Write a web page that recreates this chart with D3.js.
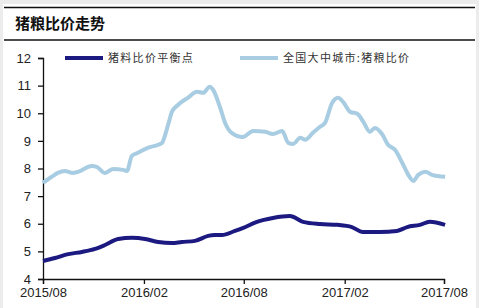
<!DOCTYPE html>
<html>
<head>
<meta charset="utf-8">
<script src="https://cdn.jsdelivr.net/npm/d3@7"></script>
<style>
  body { margin: 0; background: #fff; }
  svg { display: block; }
</style>
</head>
<body>
<div id="chart"></div>
<script>
// data
var titleText = "猪粮比价走势";
var seriesNames = ["猪料比价平衡点", "全国大中城市:猪粮比价"];
var yTicks = [4, 5, 6, 7, 8, 9, 10, 11, 12];
var xTickDates = ["2015-08-01", "2016-02-01", "2016-08-01", "2017-02-01", "2017-08-01"];

// 猪料比价平衡点
var balanceDates = ["2015-08-01", "2015-08-23", "2015-09-16", "2015-10-11", "2015-11-04", "2015-11-22",
  "2015-12-16", "2016-01-10", "2016-02-03", "2016-02-27", "2016-03-23", "2016-04-10", "2016-05-04",
  "2016-05-28", "2016-06-09", "2016-06-22", "2016-07-16", "2016-07-30", "2016-08-25", "2016-09-23",
  "2016-10-24", "2016-11-17", "2016-12-18", "2017-01-18", "2017-02-14", "2017-03-06", "2017-04-06",
  "2017-05-07", "2017-05-26", "2017-06-18", "2017-07-06", "2017-08-03"];
var balanceValues = [4.65, 4.76, 4.90, 4.98, 5.09, 5.23,
  5.45, 5.49, 5.45, 5.34, 5.30, 5.34, 5.38,
  5.56, 5.59, 5.59, 5.74, 5.84, 6.07, 6.21,
  6.28, 6.07, 5.99, 5.96, 5.88, 5.70, 5.70,
  5.74, 5.88, 5.96, 6.07, 5.96];

// 全国大中城市:猪粮比价
var ratioDates = ["2015-08-01", "2015-08-17", "2015-08-28", "2015-09-10", "2015-09-23", "2015-10-04",
  "2015-10-29", "2015-11-07", "2015-11-22", "2015-12-07", "2015-12-25", "2016-01-01", "2016-01-10",
  "2016-01-21", "2016-02-08", "2016-02-27", "2016-03-05", "2016-03-16", "2016-03-23", "2016-04-03",
  "2016-04-21", "2016-05-08", "2016-05-19", "2016-05-31", "2016-06-06", "2016-06-19", "2016-06-28",
  "2016-07-10", "2016-07-30", "2016-08-18", "2016-09-09", "2016-09-23", "2016-10-10", "2016-10-21",
  "2016-10-30", "2016-11-12", "2016-11-21", "2016-12-05", "2016-12-18", "2016-12-27", "2017-01-09",
  "2017-01-20", "2017-01-29", "2017-02-11", "2017-02-24", "2017-03-07", "2017-03-19", "2017-03-28",
  "2017-04-10", "2017-04-21", "2017-05-04", "2017-05-17", "2017-05-28", "2017-06-06", "2017-06-15",
  "2017-06-28", "2017-07-10", "2017-08-03"];
var ratioValues = [7.48, 7.70, 7.84, 7.91, 7.84, 7.88,
  8.09, 8.06, 7.84, 7.98, 7.95, 7.91, 8.46,
  8.57, 8.75, 8.86, 8.93, 9.58, 10.05, 10.30,
  10.56, 10.78, 10.74, 10.96, 10.85, 10.20, 9.65,
  9.29, 9.14, 9.36, 9.33, 9.25, 9.36, 8.93,
  8.89, 9.11, 9.04, 9.29, 9.51, 9.65, 10.37,
  10.56, 10.41, 10.05, 9.98, 9.69, 9.33, 9.47,
  9.25, 8.86, 8.67, 8.20, 7.77, 7.55, 7.77,
  7.88, 7.77, 7.70];

var svgWidth = 479;
var svgHeight = 308;
var margin = {top: 58, right: 35, bottom: 29, left: 43};
var width = svgWidth - margin.left - margin.right;
var height = svgHeight - margin.top - margin.bottom;

var darkColor = "#1c1a80";
var lightColor = "#a8cde2";
var parseDate = d3.timeParse("%Y-%m-%d");

var svg = d3.select("#chart")
  .append("svg")
  .attr("width", svgWidth)
  .attr("height", svgHeight);

// light grey frame and title bar
svg.append("rect")
  .attr("width", svgWidth).attr("height", svgHeight)
  .attr("fill", "#ececec");
svg.append("rect")
  .attr("x", 3).attr("y", 4)
  .attr("width", svgWidth - 6).attr("height", svgHeight - 4)
  .attr("fill", "#fff");

svg.append("line")
  .attr("x1", 4).attr("x2", 475).attr("y1", 7.5).attr("y2", 7.5)
  .attr("stroke", "#111").attr("stroke-width", 1.5);
svg.append("line")
  .attr("x1", 4).attr("x2", 475).attr("y1", 40).attr("y2", 40)
  .attr("stroke", "#111").attr("stroke-width", 1.5);
svg.append("text")
  .attr("x", 15).attr("y", 29)
  .style("font-family", "'Noto Sans CJK SC', sans-serif")
  .style("font-size", "15px")
  .style("font-weight", "bold")
  .style("fill", "#111")
  .text(titleText);

var chartGroup = svg.append("g")
  .attr("transform", `translate(${margin.left}, ${margin.top})`);

var xTimeScale = d3.scaleTime()
  .domain([parseDate(xTickDates[0]), parseDate(xTickDates[xTickDates.length - 1])])
  .range([0, 401]);

var yLinearScale = d3.scaleLinear()
  .domain([4, 12])
  .range([height, 0]);

var bottomAxis = d3.axisBottom(xTimeScale)
  .tickValues(xTickDates.map(parseDate))
  .tickFormat(d3.timeFormat("%Y/%m"))
  .tickSizeOuter(0)
  .tickSize(5)
  .tickPadding(4);
var leftAxis = d3.axisLeft(yLinearScale)
  .tickValues(yTicks)
  .tickSizeOuter(0)
  .tickSize(5)
  .tickPadding(7);

var xAxis = chartGroup.append("g")
  .attr("transform", `translate(0, ${height})`)
  .call(bottomAxis);
var yAxis = chartGroup.append("g")
  .call(leftAxis);

[xAxis, yAxis].forEach(function(ax) {
  ax.selectAll("path, line").attr("stroke", "#111").attr("stroke-width", 1.3);
  ax.selectAll("text")
    .style("font-family", "'Liberation Sans', Arial, sans-serif")
    .style("font-size", "13px")
    .style("fill", "#222");
});

var line = d3.line()
  .x(d => xTimeScale(d.date))
  .y(d => yLinearScale(d.value))
  .curve(d3.curveMonotoneX);

var ratioData = ratioDates.map((d, i) => ({date: parseDate(d), value: ratioValues[i]}));
var balanceData = balanceDates.map((d, i) => ({date: parseDate(d), value: balanceValues[i]}));

chartGroup.append("path")
  .datum(ratioData)
  .attr("fill", "none")
  .attr("stroke", lightColor)
  .attr("stroke-width", 4)
  .attr("stroke-linejoin", "round")
  .attr("d", line);

chartGroup.append("path")
  .datum(balanceData)
  .attr("fill", "none")
  .attr("stroke", darkColor)
  .attr("stroke-width", 4)
  .attr("stroke-linejoin", "round")
  .attr("d", line);

// legend
var legendItems = [
  {name: seriesNames[0], color: darkColor, x: 65},
  {name: seriesNames[1], color: lightColor, x: 240}
];
var legend = svg.append("g");
legendItems.forEach(function(item) {
  legend.append("line")
    .attr("x1", item.x).attr("x2", item.x + 38)
    .attr("y1", 58).attr("y2", 58)
    .attr("stroke", item.color)
    .attr("stroke-width", 4);
  legend.append("text")
    .attr("x", item.x + 43).attr("y", 62)
    .style("font-family", "'Noto Sans CJK SC', sans-serif")
    .style("font-size", "11px")
    .style("letter-spacing", "1.3px")
    .style("fill", "#333")
    .text(item.name);
});
</script>
</body>
</html>
